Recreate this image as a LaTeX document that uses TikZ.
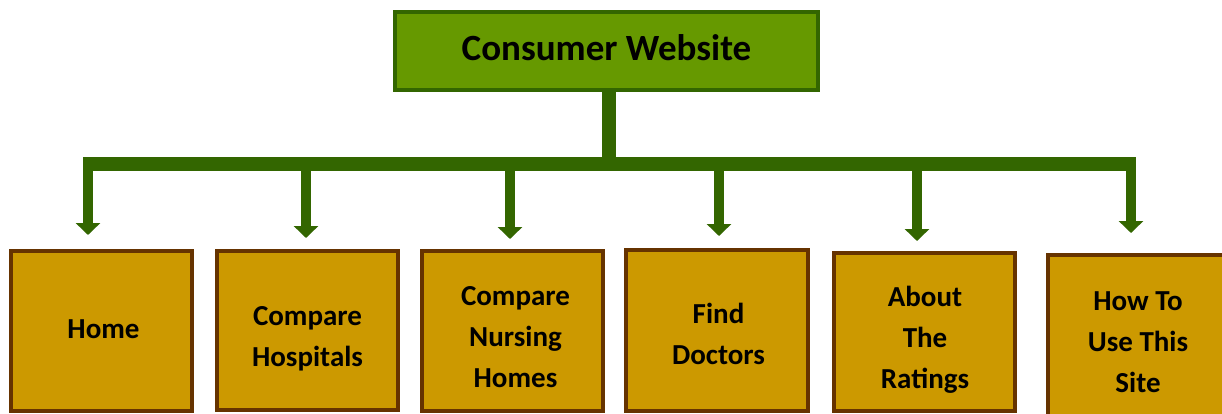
\documentclass[tikz,border=0pt]{standalone}
\usepackage{fontspec}
\setmainfont{Carlito}
\usetikzlibrary{arrows.meta}
\definecolor{topfill}{HTML}{669900}
\definecolor{topline}{HTML}{336600}
\definecolor{linkcol}{HTML}{336600}
\definecolor{kidfill}{HTML}{CC9900}
\definecolor{kidline}{HTML}{663300}
\tikzset{
  topbox/.style={draw=topline, fill=topfill, line width=4pt, inner sep=0pt,
    minimum width=423pt, minimum height=78pt, text depth=6pt,
    font=\bfseries\fontsize{37}{44}\selectfont},
  kidbox/.style={draw=kidline, fill=kidfill, line width=4pt, inner sep=0pt,
    minimum width=181pt},
  kidtext/.style={inner sep=0pt, text depth=0pt, align=center,
    font=\bfseries\fontsize{29}{41}\selectfont},
  barline/.style={draw=linkcol, line width=14pt},
  branch/.style={draw=linkcol, line width=10pt,
    -{Triangle[width=24pt,length=12pt]}},
}
\begin{document}
\begin{tikzpicture}[x=1pt,y=-1pt]
\clip (0,0) rectangle (1222,413);
\fill[white] (0,0) rectangle (1222,413);
% top node
\node[topbox] (top) at (606.5,51) {Consumer Website};
% children boxes
\node[kidbox, minimum height=160pt] (home)  at (101.5,331) {};
\node[kidbox, minimum height=159pt] (hosp)  at (307.5,330.5) {};
\node[kidbox, minimum height=160pt] (nurs)  at (512.5,331) {};
\node[kidbox, minimum height=161pt, minimum width=182pt] (docs) at (717,330.5) {};
\node[kidbox, minimum height=158pt] (about) at (924.5,332) {};
\node[kidbox, minimum height=185pt] (howto) at (1138.5,347.5) {};
% children texts
\node[kidtext] (home-t)  at (103.5,329) {Home};
\node[kidtext] (hosp-t)  at (307.5,336) {Compare\\Hospitals};
\node[kidtext] (nurs-t)  at (515.5,337) {Compare\\Nursing\\Homes};
\node[kidtext] (docs-t)  at (718.5,333.5) {Find\\Doctors};
\node[kidtext] (about-t) at (925,337) {About\\The\\Ratings};
\node[kidtext] (howto-t) at (1138,342) {How To\\Use This\\Site};
% junctions
\coordinate (hub) at (609,164);
\coordinate (j1) at (88,164);
\coordinate (j2) at (306,164);
\coordinate (j3) at (510,164);
\coordinate (j4) at (719,164);
\coordinate (j5) at (917,164);
\coordinate (j6) at (1131,164);
% trunk and bar
\draw[barline] (top.south -| hub) -- (hub);
\draw[barline] ([xshift=-5pt]j1) -- ([xshift=5pt]j6);
% branches
\draw[branch, shorten >=14pt] (j1) -- (home.north -| j1);
\draw[branch, shorten >=11pt] (j2) -- (hosp.north -| j2);
\draw[branch, shorten >=10pt] (j3) -- (nurs.north -| j3);
\draw[branch, shorten >=12pt] (j4) -- (docs.north -| j4);
\draw[branch, shorten >=10pt] (j5) -- (about.north -| j5);
\draw[branch, shorten >=20pt] (j6) -- (howto.north -| j6);
\end{tikzpicture}
\end{document}
